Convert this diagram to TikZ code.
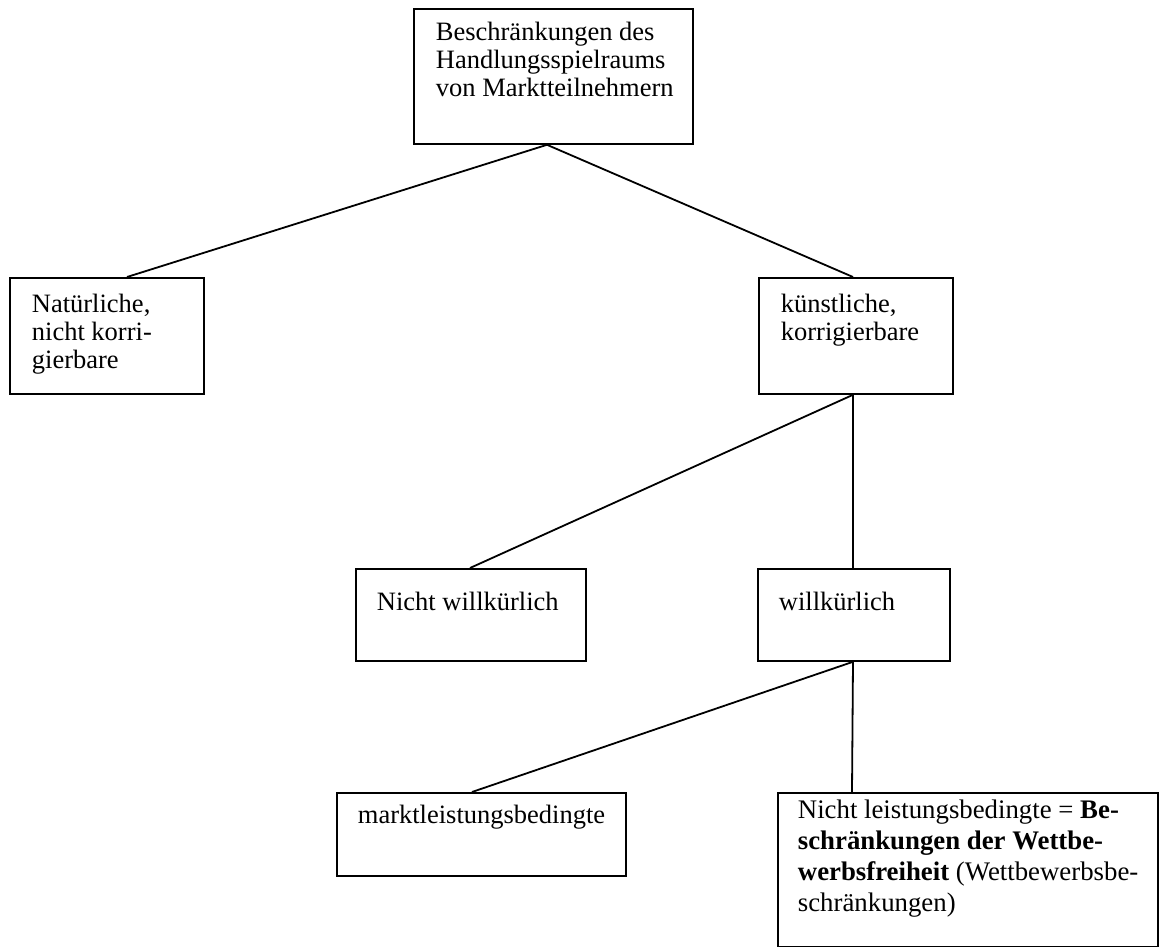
\documentclass[tikz,border=0pt]{standalone}
\usepackage{fontspec}
\setmainfont{Liberation Serif}
\usetikzlibrary{calc}
% #1 width, #2 height, #3 left pad, #4 first-baseline depth, #5 text
\newcommand{\bxtext}[5]{\parbox[c][#2][t]{#1}{\raggedright\leftskip=#3\rule{0pt}{#4}#5}}
\tikzset{
  tbox/.style={draw, line width=0.9pt, anchor=north west, inner sep=0pt, font=\fontsize{13.25pt}{13.9pt}\selectfont},
  conn/.style={line width=0.9pt}
}
\begin{document}
\begin{tikzpicture}[x=0.5pt,y=-0.5pt]
\useasboundingbox (0,0) rectangle (1163,947);
\node[tbox] (A) at (413,8) {\bxtext{139.5pt}{67.5pt}{11pt}{16pt}{Beschränkungen des\\Handlungsspielraums\\von Marktteilnehmern}};
\node[tbox] (B) at (9,277) {\bxtext{97pt}{58pt}{11pt}{17.5pt}{Natürliche,\\nicht korri-\\gierbare}};
\node[tbox] (C) at (758,277) {\bxtext{97pt}{58pt}{11pt}{17.5pt}{künstliche,\\korrigierbare}};
\node[tbox] (D) at (355,568) {\bxtext{115pt}{46pt}{10.5pt}{21pt}{Nicht willkürlich}};
\node[tbox] (E) at (757,568) {\bxtext{96pt}{46pt}{10.5pt}{21pt}{willkürlich}};
\node[tbox] (F) at (336,792) {\bxtext{144.5pt}{41.5pt}{10.5pt}{15.5pt}{marktleistungsbedingte}};
\node[tbox,font=\fontsize{13.4pt}{15.5pt}\selectfont] (G) at (777,792) {\bxtext{190pt}{77pt}{10pt}{13pt}{Nicht leistungsbedingte = \textbf{Be-}\\\textbf{schränkungen der Wettbe-}\\\textbf{werbsfreiheit} (Wettbewerbsbe-\\schränkungen)}};
\draw[conn] ($(A.south west)+(134,0)$) -- ($(B.north west)+(118,0)$);
\draw[conn] ($(A.south west)+(134,0)$) -- ($(C.north west)+(95,0)$);
\draw[conn] ($(C.south west)+(95,0)$) -- ($(D.north west)+(115,0)$);
\draw[conn] ($(C.south west)+(95,0)$) -- ($(E.north west)+(96,0)$);
\draw[conn] ($(E.south west)+(96,0)$) -- ($(F.north west)+(136,0)$);
\draw[conn] ($(E.south west)+(96,0)$) -- ($(G.north west)+(75,0)$);
\end{tikzpicture}
\end{document}
